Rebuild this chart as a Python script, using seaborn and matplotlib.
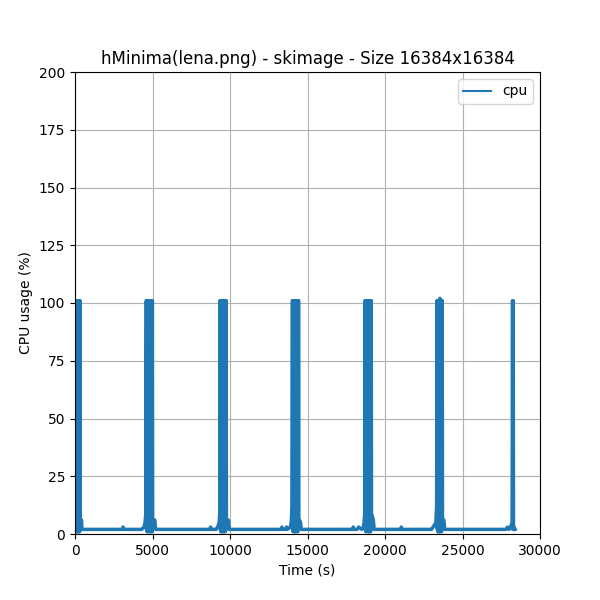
import matplotlib
matplotlib.use("Agg")
import matplotlib.pyplot as plt
import seaborn as sns
import pandas as pd

# burst / baseline segments (time in s, cpu in %)
seg0_t = [0, 12, 24, 36, 48, 60, 72, 84, 96, 108, 120, 132, 144, 156, 168, 180, 192, 204, 216, 228, 240, 252, 264, 276, 288, 300, 312, 330, 420, 450]
seg0_v = [101, 2, 101, 1, 101, 3, 101, 1, 101, 2, 101, 1, 101, 40, 101, 2, 101, 1, 101, 3, 101, 1, 101, 2, 101, 1, 101, 6, 6, 2]

base1_t = [1500, 3050, 3100, 3150, 4300, 4450, 4520, 4570]
base1_v = [2, 2, 3, 2, 2, 3, 5, 9]

seg1_t = [4600, 4615, 4630, 4645, 4660, 4675, 4690, 4705, 4720, 4735, 4750, 4765, 4780, 4795, 4810, 4825, 4840, 4855, 4870, 4885, 4900, 4915, 4930, 4945, 4960, 4975, 4990, 5010, 5050, 5150, 5200]
seg1_v = [101, 2, 101, 1, 101, 3, 101, 1, 101, 2, 101, 40, 101, 1, 101, 2, 101, 1, 101, 3, 101, 1, 101, 2, 101, 1, 101, 3, 6, 6, 2]

base2_t = [6500, 8700, 8750, 8800, 9100, 9200, 9300, 9340]
base2_v = [2, 2, 3, 2, 2, 3, 5, 9]

seg2_t = [9360, 9375, 9390, 9405, 9420, 9435, 9450, 9465, 9480, 9495, 9510, 9525, 9540, 9555, 9570, 9585, 9600, 9615, 9630, 9645, 9660, 9675, 9690, 9705, 9720, 9735, 9750, 9770, 9800, 9900, 9950]
seg2_v = [101, 2, 101, 1, 101, 3, 101, 1, 101, 38, 101, 1, 101, 2, 101, 1, 101, 3, 101, 1, 101, 2, 101, 1, 101, 2, 101, 3, 6, 6, 2]

base3_t = [11000, 13300, 13350, 13400, 13600, 13650, 13700, 13900, 13950, 14000]
base3_v = [2, 2, 3, 2, 2, 3, 2, 3, 5, 12]

seg3_t = [14030, 14045, 14060, 14075, 14090, 14105, 14120, 14135, 14150, 14165, 14180, 14195, 14210, 14225, 14240, 14255, 14270, 14285, 14300, 14315, 14330, 14345, 14360, 14375, 14390, 14405, 14420, 14440, 14480, 14550, 14600]
seg3_v = [101, 2, 101, 1, 101, 40, 101, 1, 101, 2, 101, 1, 101, 3, 101, 1, 101, 2, 101, 1, 101, 3, 101, 1, 101, 2, 101, 3, 6, 5, 2]

base4_t = [16000, 17900, 17950, 18000, 18200, 18300, 18500, 18600, 18650, 18700]
base4_v = [2, 2, 3, 2, 2, 3, 2, 3, 5, 10]

seg4_t = [18720, 18735, 18750, 18765, 18780, 18795, 18810, 18825, 18840, 18855, 18870, 18885, 18900, 18915, 18930, 18945, 18960, 18975, 18990, 19005, 19020, 19035, 19050, 19065, 19080, 19095, 19110, 19130, 19170, 19250, 19300]
seg4_v = [101, 2, 101, 1, 101, 3, 101, 38, 101, 2, 101, 1, 101, 3, 101, 1, 101, 2, 101, 1, 101, 60, 101, 1, 101, 2, 101, 3, 8, 6, 2]

base5_t = [21000, 21050, 21100, 23000, 23100, 23200, 23280, 23330]
base5_v = [2, 3, 2, 2, 3, 4, 5, 12]

seg5_t = [23360, 23375, 23390, 23405, 23420, 23435, 23450, 23465, 23480, 23495, 23510, 23525, 23540, 23555, 23570, 23585, 23600, 23615, 23630, 23645, 23660, 23675, 23690, 23710, 23750, 23800, 23850]
seg5_v = [101, 2, 101, 1, 101, 30, 101, 1, 101, 2, 101, 1, 102, 3, 101, 1, 101, 2, 101, 1, 101, 2, 101, 5, 6, 6, 2]

base6_t = [25000, 26500, 27800, 27900, 28000, 28100, 28150, 28200]
base6_v = [2, 2, 2, 3, 2, 3, 4, 5]

seg6_t = [28230, 28250, 28270, 28290, 28320, 28400]
seg6_v = [101, 2, 101, 2, 3, 2]

time = (seg0_t + base1_t + seg1_t + base2_t + seg2_t + base3_t + seg3_t
        + base4_t + seg4_t + base5_t + seg5_t + base6_t + seg6_t)
cpu = (seg0_v + base1_v + seg1_v + base2_v + seg2_v + base3_v + seg3_v
       + base4_v + seg4_v + base5_v + seg5_v + base6_v + seg6_v)

df = pd.DataFrame({"time": time, "cpu": cpu})

fig, ax = plt.subplots(figsize=(6, 6), dpi=100)
sns.lineplot(data=df, x="time", y="cpu", estimator=None, sort=False,
             color="#1f77b4", linewidth=2.5, label="cpu", ax=ax)
ax.set_xlim(0, 30000)
ax.set_ylim(0, 200)
ax.set_xticks(range(0, 30001, 5000))
ax.set_yticks(range(0, 201, 25))
ax.grid(True, color="#b0b0b0", linewidth=0.8)
ax.set_axisbelow(True)
ax.set_xlabel("Time (s)")
ax.set_ylabel("CPU usage (%)")
ax.set_title("hMinima(lena.png) - skimage - Size 16384x16384")
leg = ax.legend(loc="upper right")
for h in leg.get_lines():
    h.set_linewidth(1.5)
fig.savefig("out.png", dpi=100)
